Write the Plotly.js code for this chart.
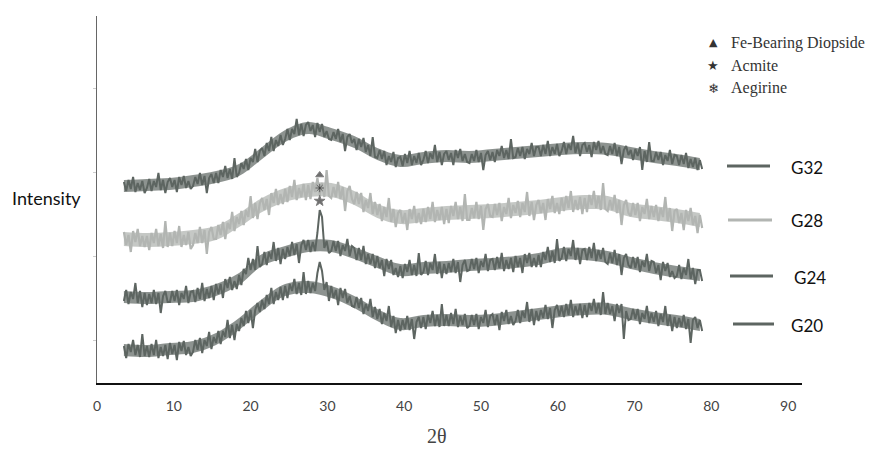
<!DOCTYPE html>
<html>
<head>
<meta charset="utf-8">
<script src="https://cdn.plot.ly/plotly-3.0.1.min.js"></script>
<style>html,body{margin:0;padding:0;background:#fff;}#chart{width:876px;height:450px;}</style>
</head>
<body>
<div id="chart"></div>
<script>
// 2-theta sampling: start and step of the scans
const scanStart = 3.5;
const scanStep = 0.3;
// dense core of each noisy trace (band edges read every 3 degrees)
const bandStart = 3.5;
const bandStep = 3;

const seriesNames = ["G32", "G28", "G24", "G20"];

const g32 = [
201,192,203,194,206,191,200,193,202,190,
195,204,192,202,196,210,193,203,190,201,
205,196,203,191,206,198,207,195,202,194,
197,206,199,210,198,207,190,205,209,200,
210,200,213,206,217,205,214,204,225,206,
210,220,214,224,213,225,221,234,221,232,
235,227,240,232,246,232,243,237,248,238,
244,254,243,254,249,264,248,259,247,258,
261,252,258,246,260,251,259,246,252,244,
243,251,244,254,241,249,232,246,249,240,
244,233,244,236,245,231,238,227,246,226,
225,233,224,232,218,227,221,231,216,225,
226,217,229,220,232,218,227,220,230,218,
223,232,220,230,224,238,221,231,218,229,
232,223,230,218,233,225,234,222,229,221,
220,229,222,233,221,230,213,228,232,223,
231,221,233,227,237,225,233,224,244,225,
226,235,227,236,224,234,229,240,227,236,
236,227,238,229,242,227,236,229,239,227,
232,241,229,239,233,247,230,240,227,238,
240,231,238,226,241,233,242,230,237,229,
228,237,229,240,227,236,219,233,237,228,
233,223,234,227,236,213,232,221,241,222,
222,231,223,231,218,228,222,233,219,228,
227,218,228,219,230,215,224,216,225,213,
223,214];

const g28 = [
151,138,148,131,152,141,154,137,147,136,
147,133,150,140,154,137,149,135,162,136,
150,137,152,140,157,136,148,138,151,134,
138,150,140,156,140,153,129,151,156,144,
144,158,148,161,144,160,154,171,152,166,
159,172,158,173,166,187,165,180,164,180,
185,173,184,168,190,180,194,178,189,179,
194,181,197,186,203,183,195,186,199,183,
198,184,201,191,205,188,200,186,213,187,
185,196,186,201,184,196,172,192,197,184,
179,191,179,190,171,183,175,190,169,181,
168,179,162,176,166,185,161,174,156,170,
173,160,170,153,174,164,177,160,170,159,
174,161,176,164,181,161,173,163,176,159,
174,160,177,167,181,164,176,162,189,163,
163,175,165,181,164,177,153,174,179,167,
166,179,168,180,162,176,169,185,165,178,
170,182,166,180,171,191,167,181,163,178,
183,170,180,163,184,174,187,170,180,169,
185,172,187,175,192,171,183,173,186,169,
185,171,188,178,192,175,187,173,200,174,
172,183,173,188,170,183,158,178,183,170,
167,180,168,180,162,176,169,184,164,177,
166,178,162,175,166,186,162,175,152,172,
174,160,170,153,173,162,175,158,167,150,
168,155];

const g24 = [
82,93,79,91,84,100,80,92,76,90,
78,89,80,93,79,90,70,87,92,81,
81,92,82,93,78,90,84,97,80,91,
92,81,95,84,100,82,94,85,97,83,
99,89,99,85,104,95,106,93,102,94,
108,98,114,109,125,113,124,113,137,116,
119,131,118,131,124,141,122,135,119,134,
124,136,127,141,128,139,120,138,143,133,
143,131,141,132,150,173,166,135,142,130,
132,142,132,142,127,138,132,144,127,137,
135,123,135,123,137,119,129,119,129,115,
127,115,123,107,124,114,123,108,115,106,
117,105,119,111,123,108,118,107,130,108,
111,122,108,120,113,129,109,121,105,119,
109,120,111,124,110,121,101,118,123,112,
113,124,114,125,110,122,116,129,112,123,
124,113,126,115,130,112,123,114,125,111,
127,116,125,110,129,120,130,116,125,116,
128,116,131,123,136,121,132,120,144,122,
125,136,122,134,127,143,123,135,119,133,
134,123,136,125,140,122,133,124,135,121,
119,130,120,133,118,129,108,125,129,118,
115,126,115,126,111,122,116,129,112,122,
121,110,118,103,121,112,120,106,112,105,
107,118,104,115,108,124,104,115,99,113,
113,102];

const g20 = [
37,25,39,31,43,28,38,26,49,27,
37,26,39,28,43,25,36,27,38,24,
40,29,38,23,41,32,42,28,36,27,
31,43,33,45,30,43,37,51,34,46,
40,52,39,52,46,63,45,58,43,59,
52,65,57,72,60,73,55,73,80,71,
83,74,88,79,95,79,91,83,96,83,
97,85,99,92,104,89,100,88,111,89,
102,90,100,92,110,121,112,93,101,82,
97,85,93,78,95,85,94,80,87,77,
76,86,75,85,69,79,72,84,66,76,
64,74,59,70,62,77,56,67,50,63,
52,63,54,67,53,64,44,61,66,55,
66,54,68,60,72,57,68,56,79,57,
68,57,70,59,74,56,67,58,69,55,
57,68,58,69,54,66,60,73,56,67,
69,58,68,53,71,62,73,59,67,58,
62,73,60,72,65,81,61,74,58,72,
62,73,65,78,64,75,55,73,78,67,
77,66,79,68,83,66,77,68,79,65,
78,66,80,72,84,70,80,68,91,69,
80,69,77,62,79,70,79,44,72,63,
64,74,64,74,59,70,64,77,60,70,
61,72,57,69,61,77,57,68,52,66,
55,65,56,68,54,64,40,63,66,55,
63,52];

// band edges of the dense core (upper / lower), every 3 degrees from 3.5
const g32Upper = [203,204,205,208,212,219,236,253,261,255,247,235,228,231,233,232,234,236,238,240,241,240,236,232,229,225];
const g32Lower = [191,192,193,196,200,207,224,241,249,243,235,223,216,219,221,220,222,224,226,228,229,228,224,220,217,213];
const g28Upper = [151,150,151,153,157,170,185,195,200,200,192,179,173,175,177,178,179,181,183,186,188,187,180,177,174,170];
const g28Lower = [137,136,137,139,143,156,171,181,186,186,178,165,159,161,163,164,165,167,169,172,174,173,166,163,160,156];
const g24Upper = [92,91,92,93,99,110,129,137,143,143,136,127,119,121,122,124,125,127,130,135,135,132,126,121,117,114];
const g24Lower = [80,79,80,81,87,98,117,125,131,131,124,115,107,109,110,112,113,115,118,123,123,120,114,109,105,102];
const g20Upper = [39,38,40,42,50,65,84,99,102,97,87,74,65,68,69,68,69,72,75,78,80,80,75,71,68,64];
const g20Lower = [27,26,28,30,38,53,72,87,90,85,75,62,53,56,57,56,57,60,63,66,68,68,63,59,56,52];

// Phase markers above the 29 deg peak
const phaseNames = ["Fe-Bearing Diopside", "Acmite", "Aegirine"];
const phaseX = [29.0, 29.0, 29.0];
const phaseY = [208, 182, 195];

const xTicks = [0, 10, 20, 30, 40, 50, 60, 70, 80, 90];

const darkCol = "#5d6561";
const lightCol = "#b2b5b2";
const seriesColors = [darkCol, lightCol, darkCol, darkCol];
const bandColors = ["rgba(93,101,97,0.7)", "rgba(178,181,178,0.75)", "rgba(93,101,97,0.7)", "rgba(93,101,97,0.7)"];
const seriesWidths = [2.0, 2.2, 2.0, 2.0];
const seriesData = [g32, g28, g24, g20];
const bandUpper = [g32Upper, g28Upper, g24Upper, g20Upper];
const bandLower = [g32Lower, g28Lower, g24Lower, g20Lower];

const traces = [];
seriesData.forEach((ys, i) => {
  traces.push({
    type: "scatter", mode: "lines", x0: bandStart, dx: bandStep, y: bandLower[i],
    line: {width: 0, shape: "spline", color: seriesColors[i]},
    hoverinfo: "skip", showlegend: false
  });
  traces.push({
    type: "scatter", mode: "lines", x0: bandStart, dx: bandStep, y: bandUpper[i],
    line: {width: 0, shape: "spline", color: seriesColors[i]},
    fill: "tonexty", fillcolor: bandColors[i],
    hoverinfo: "skip", showlegend: false
  });
  traces.push({
    type: "scatter", mode: "lines",
    x0: scanStart, dx: scanStep, y: ys,
    name: seriesNames[i],
    line: {color: seriesColors[i], width: seriesWidths[i]},
    hoverinfo: "skip", showlegend: false
  });
});

const phaseSymbols = ["triangle-up", "star", "asterisk-open"];
traces.push({
  type: "scatter", mode: "markers",
  x: phaseX, y: phaseY,
  marker: {symbol: phaseSymbols, size: [7, 8, 7], color: "#333",
           line: {color: "#444", width: 1}},
  showlegend: false, hoverinfo: "skip"
});

// helpers for pixel -> paper conversion of decorations
const L = 97, R = 802, T = 16, B = 383;
const px = v => (v - L) / (R - L);
const py = v => (B - v) / (B - T);

const legendY = [166, 220, 276, 324];
const legendX0 = [727, 728, 730, 733];
const legendX1 = [770, 772, 773, 774];
const shapes = seriesNames.map((n, i) => ({
  type: "line", xref: "paper", yref: "paper",
  x0: px(legendX0[i]), x1: px(legendX1[i]), y0: py(legendY[i]), y1: py(legendY[i]),
  line: {color: seriesColors[i], width: 3}
}));

const annotations = [];
seriesNames.forEach((n, i) => annotations.push({
  xref: "paper", yref: "paper", x: px(789 + (i === 2 ? 3 : 0)), y: py(legendY[i] + 1),
  xanchor: "left", yanchor: "middle", showarrow: false, text: n,
  font: {family: "Lato, 'Open Sans', sans-serif", size: 17, color: "#111"}
}));
const symText = ["▲", "★", "❄"];
const phaseLegY = [43, 65, 88];
phaseNames.forEach((n, i) => {
  annotations.push({
    xref: "paper", yref: "paper", x: px(713), y: py(phaseLegY[i]),
    xanchor: "center", yanchor: "middle", showarrow: false, text: symText[i],
    font: {family: "DejaVu Sans", size: i === 0 ? 11 : 13, color: "#333"}
  });
  annotations.push({
    xref: "paper", yref: "paper", x: px(729), y: py(phaseLegY[i]),
    xanchor: "left", yanchor: "middle", showarrow: false, text: n,
    font: {family: "'Liberation Serif', 'Times New Roman', serif", size: 16, color: "#333"}
  });
});
annotations.push({
  xref: "paper", yref: "paper", x: px(10), y: py(198),
  xanchor: "left", yanchor: "middle", showarrow: false, text: "Intensity",
  font: {family: "Lato, 'Open Sans', sans-serif", size: 18, color: "#111"}
});
annotations.push({
  xref: "paper", yref: "paper", x: px(437), y: py(436),
  xanchor: "center", yanchor: "middle", showarrow: false, text: "2θ",
  font: {family: "'Liberation Serif', 'Times New Roman', serif", size: 20, color: "#444"}
});

const layout = {
  width: 876, height: 450,
  margin: {l: L, r: 876 - R, t: T, b: 450 - B, pad: 0},
  paper_bgcolor: "#fff", plot_bgcolor: "#fff",
  showlegend: false,
  xaxis: {
    range: [0, 91.8], tickvals: xTicks, ticktext: xTicks.map(String),
    showgrid: false, zeroline: false, showline: true, linecolor: "#111", linewidth: 1.5,
    ticks: "outside", ticklen: 10, tickcolor: "rgba(0,0,0,0)",
    tickfont: {family: "Lato, 'Open Sans', sans-serif", size: 14, color: "#444"}
  },
  yaxis: {
    range: [0, 367], showgrid: false, zeroline: false, showline: true,
    linecolor: "#666", linewidth: 1.5, showticklabels: false,
    ticks: "outside", ticklen: 3, tickcolor: "#ccc", tick0: 43, dtick: 84
  },
  shapes: shapes,
  annotations: annotations
};

Plotly.newPlot("chart", traces, layout, {displayModeBar: false, staticPlot: true});
</script>
</body>
</html>
